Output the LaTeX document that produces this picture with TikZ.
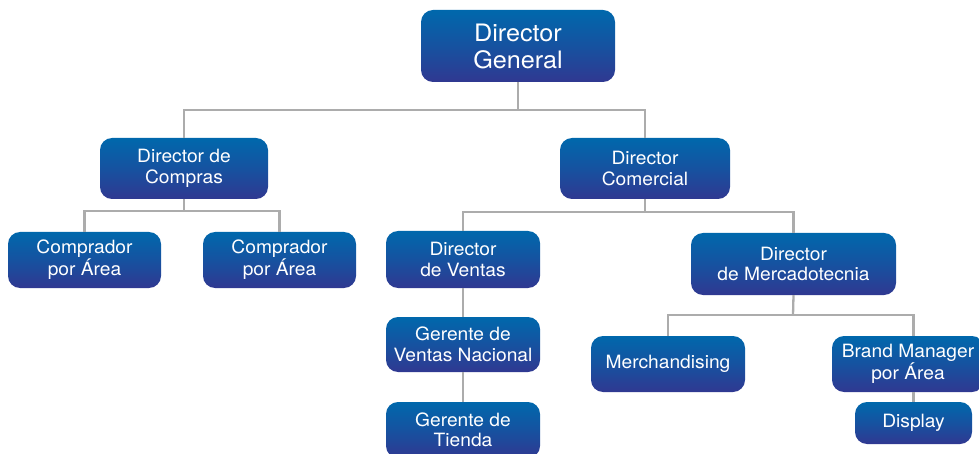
\documentclass[tikz,border=0pt]{standalone}
\usepackage{fontspec}
\setmainfont{TeX Gyre Heros}[FakeStretch=1.05]
\usetikzlibrary{calc}
\definecolor{btop}{RGB}{0,104,172}
\definecolor{bmid}{RGB}{22,82,160}
\definecolor{bbot}{RGB}{48,56,145}
\definecolor{lgray}{RGB}{172,172,172}
\tikzset{
  orgbox/.style={rounded corners=12pt, top color=btop, bottom color=bbot, middle color=bmid,
    text=white, align=center, inner sep=0pt, font=\fontsize{18.3}{20.5}\selectfont},
  bigbox/.style={orgbox, font=\fontsize{24}{27}\selectfont},
  conn/.style={draw=lgray, line width=2.3pt}
}
\begin{document}
\begin{tikzpicture}[x=1pt,y=-1pt]
\useasboundingbox (0,0) rectangle (979,454);
\clip (0,0) rectangle (979,454);
% nodes
\node[bigbox, minimum width=194pt, minimum height=72pt] (gen) at (518,46) {Director\\General};
\node[orgbox, minimum width=168pt, minimum height=61pt] (comp) at (184,168.5) {Director de\\Compras};
\node[orgbox, minimum width=170pt, minimum height=61pt] (com) at (645,168.5) {Director\\Comercial};
\node[orgbox, minimum width=153pt, minimum height=56pt] (c1) at (84.5,260) {Comprador\\por Área};
\node[orgbox, minimum width=153pt, minimum height=56pt] (c2) at (279.5,260) {Comprador\\por Área};
\node[orgbox, minimum width=154pt, minimum height=57pt] (ven) at (463,259.5) {Director\\de Ventas};
\node[orgbox, minimum width=205pt, minimum height=62pt] (mkt) at (793.5,264) {Director\\de Mercadotecnia};
\node[orgbox, minimum width=154pt, minimum height=55pt] (gvn) at (463,344.5) {Gerente de\\Ventas Nacional};
\node[orgbox, minimum width=154pt, minimum height=56pt] (gt) at (463,430) {Gerente de\\Tienda};
\node[orgbox, minimum width=154pt, minimum height=56pt] (merch) at (668,364) {Merchandising};
\node[orgbox, minimum width=152pt, minimum height=56pt] (bm) at (908,364) {Brand Manager\\por Área};
\node[orgbox, minimum width=117pt, minimum height=42pt] (disp) at (913.5,423) {Display};
% connectors
\coordinate (j1) at (518,110);
\coordinate (j2) at (184,211);
\coordinate (j3) at (645,212);
\coordinate (j4) at (793,315);
\draw[conn] (gen.south) -- (j1);
\draw[conn] (comp.north) |- (j1) -| (com.north);
\draw[conn] (comp.south) -- (j2);
\draw[conn] (c1.north) |- (j2) -| (c2.north);
\draw[conn] (com.south) -- (j3);
\draw[conn] (ven.north) |- (j3) -| (mkt.north);
\draw[conn] (ven.south) -- (gvn.north);
\draw[conn] (gvn.south) -- (gt.north);
\draw[conn] (mkt.south) -- (j4);
\draw[conn] (merch.north) |- (j4) -| (disp.north |- bm.north);
\draw[conn] (disp.north |- bm.south) -- (disp.north);
\end{tikzpicture}
\end{document}
